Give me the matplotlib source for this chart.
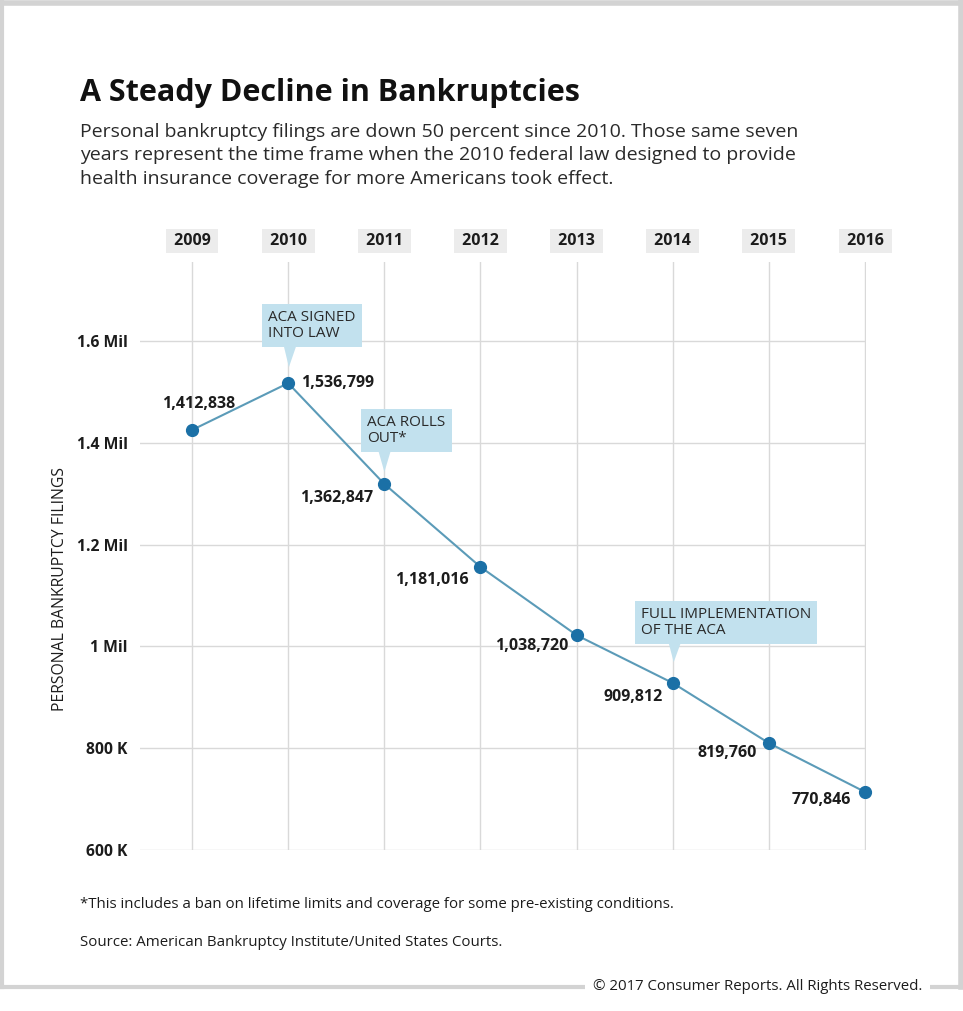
import matplotlib.pyplot as plt
import matplotlib.transforms as mtransforms
from matplotlib.lines import Line2D

plt.rcParams['font.family'] = ['Open Sans', 'DejaVu Sans']

# data ---------------------------------------------------------------
years = [2009, 2010, 2011, 2012, 2013, 2014, 2015, 2016]
# printed value of each point
filings = [1412838, 1536799, 1362847, 1181016, 1038720, 909812, 819760, 770846]
# height of each dot as drawn in the graphic
levels = [1425000, 1517000, 1319000, 1156000, 1022000, 928000, 810000, 714000]
ytick_vals = [600000, 800000, 1000000, 1200000, 1400000, 1600000]
ytick_labels = ["600 K", "800 K", "1 Mil", "1.2 Mil", "1.4 Mil", "1.6 Mil"]
callout_years = [2010, 2011, 2014]
callout_texts = ["ACA SIGNED\nINTO LAW", "ACA ROLLS\nOUT*", "FULL IMPLEMENTATION\nOF THE ACA"]

title = "A Steady Decline in Bankruptcies"
subtitle = ("Personal bankruptcy filings are down 50 percent since 2010. Those same seven\n"
            "years represent the time frame when the 2010 federal law designed to provide\n"
            "health insurance coverage for more Americans took effect.")
footnote = "*This includes a ban on lifetime limits and coverage for some pre-existing conditions."
source = "Source: American Bankruptcy Institute/United States Courts."
copyright_txt = "\u00a9 2017 Consumer Reports. All Rights Reserved."

# label placement (offset points) and alignment per point
lab_off = [(5, 19), (9, 0), (-8, -10), (-8.6, -9.4), (-5.8, -8), (-7, -10), (-8.6, -7), (-10, -6)]
lab_ha = ["center", "left", "right", "right", "right", "right", "right", "right"]
# callout: text offset (points) from the dot, where the pointer leaves the box, gap to dot
call_off = [(-14.3, 30.3), (-12.2, 27.4), (-23, 32.5)]
call_rel = [0.25, 0.22, 0.20]
call_gap = [11.5, 8.6, 15]

TXT = "#1c1c1c"
GRID = "#d9d9d9"
LINE = "#5b9bb8"
DOT = "#1b70a6"
BOX = "#c2e1ee"
FRAME = "#d3d3d3"

fig = plt.figure(figsize=(9.63, 10.11), dpi=100)
W, H = 963, 1011
ax = fig.add_axes([140 / W, 161 / H, 726 / W, 588 / H])

ax.plot(years, levels, color=LINE, lw=1.5, zorder=3, clip_on=False)
ax.plot(years, levels, "o", color=DOT, ms=8.5, zorder=4, clip_on=False)

ax.set_xlim(2008.459, 2016.01)
ax.set_ylim(600000, 1755000)
ax.set_xticks(years)
ax.set_xticklabels([])
ax.set_yticks(ytick_vals)
ax.set_yticklabels(ytick_labels, fontsize=11.3, fontweight="bold", color=TXT)
ax.tick_params(length=0, pad=9)
ax.grid(True, color=GRID, lw=1)
ax.set_axisbelow(True)
for s in ax.spines.values():
    s.set_visible(False)

# year labels on top
trans = mtransforms.blended_transform_factory(ax.transData, ax.transAxes)
for yr in years:
    ax.text(yr, 1.036, " %d " % yr, transform=trans, ha="center", va="center",
            fontsize=11.5, fontweight="bold", color=TXT,
            bbox=dict(boxstyle="square,pad=0.25", fc="#ececec", ec="none"))

# value labels
for yr, lv, v, off, ha in zip(years, levels, filings, lab_off, lab_ha):
    ax.annotate(f"{v:,}", (yr, lv), xytext=off, textcoords="offset points",
                ha=ha, va="center", fontsize=11.5, fontweight="bold", color=TXT, zorder=5)

# callouts
for yr, txt, off, rel, gap in zip(callout_years, callout_texts, call_off, call_rel, call_gap):
    lv = levels[years.index(yr)]
    ax.annotate(txt, (yr, lv), xytext=off, textcoords="offset points",
                ha="left", va="bottom", fontsize=11, color="#2a2a2a", linespacing=1.1,
                bbox=dict(boxstyle="square,pad=0.4", fc=BOX, ec="none"),
                arrowprops=dict(arrowstyle="wedge,tail_width=0.55", fc=BOX, ec="none",
                                relpos=(rel, 0), shrinkA=0, shrinkB=gap,
                                mutation_scale=20, patchA=None),
                zorder=5)

# headings and notes
fig.text(80 / W, 1 - 93 / H, title, fontsize=22, fontweight="bold", color="#111111",
         va="center", ha="left")
fig.text(80 / W, 1 - 123 / H, subtitle, fontsize=14, color="#2a2a2a", va="top",
         ha="left", linespacing=1.38)
fig.text(60 / W, 1 - 589 / H, "PERSONAL BANKRUPTCY FILINGS", rotation=90,
         fontsize=11.3, color=TXT, ha="center", va="center")
fig.text(80 / W, 1 - 905 / H, footnote, fontsize=10.8, color=TXT, va="center", ha="left")
fig.text(80 / W, 1 - 943 / H, source, fontsize=10.8, color=TXT, va="center", ha="left")

# frame around the graphic
fig.add_artist(Line2D([0, 1], [1 - 2.5 / H, 1 - 2.5 / H], color=FRAME, lw=4,
                      transform=fig.transFigure))
fig.add_artist(Line2D([1.5 / W, 1.5 / W], [1 - 987 / H, 1], color=FRAME, lw=3,
                      transform=fig.transFigure))
fig.add_artist(Line2D([1 - 2.5 / W, 1 - 2.5 / W], [1 - 987 / H, 1], color=FRAME, lw=4,
                      transform=fig.transFigure))
fig.add_artist(Line2D([0, 1], [1 - 987 / H, 1 - 987 / H], color=FRAME, lw=3,
                      transform=fig.transFigure))
fig.text(922 / W, 1 - 987 / H, copyright_txt, fontsize=10.8, color=TXT, ha="right",
         va="center", bbox=dict(boxstyle="square,pad=0.5", fc="white", ec="none"))

fig.savefig("out.png", dpi=100)
